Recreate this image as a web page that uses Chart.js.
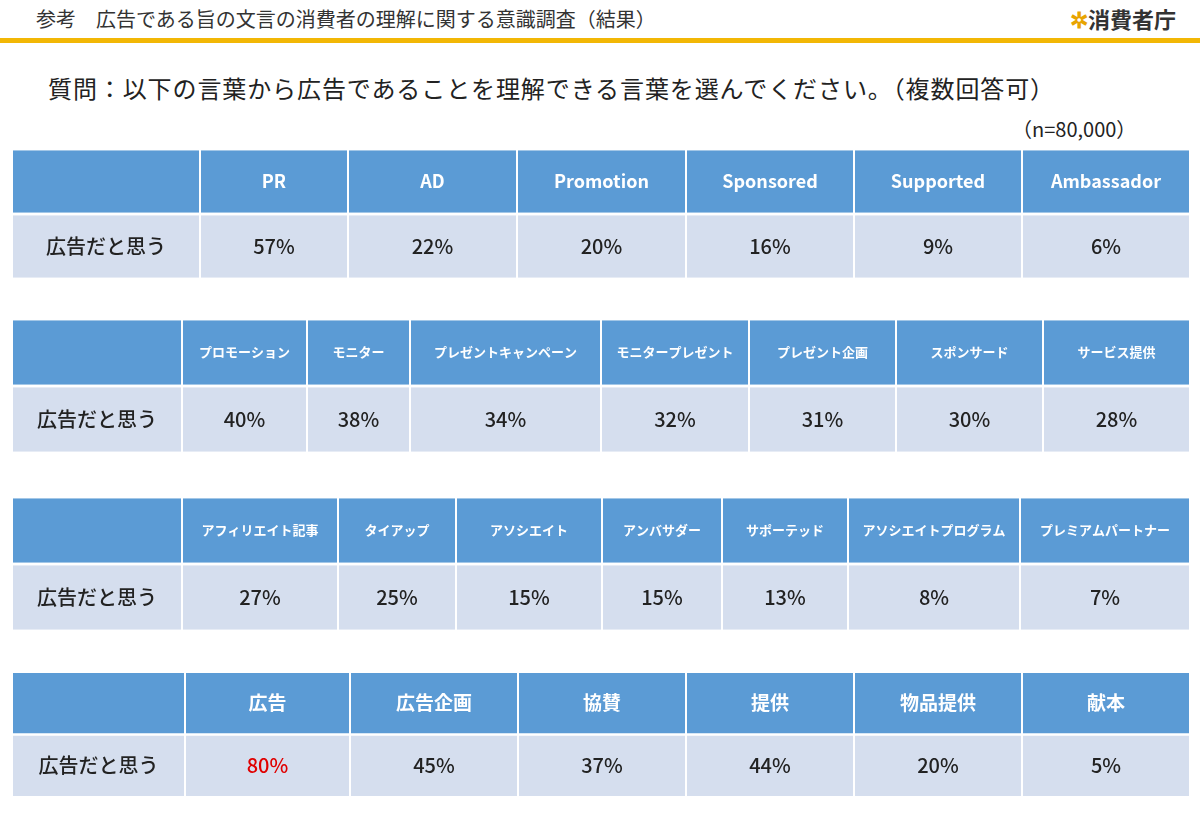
<!DOCTYPE html>
<html><head><meta charset="utf-8">
<script src="https://cdn.jsdelivr.net/npm/chart.js@4.4.0/dist/chart.umd.min.js"></script>
<style>
body{margin:0;width:1200px;height:830px;background:#fff;position:relative;overflow:hidden;font-family:"Noto Sans CJK JP","Noto Sans",sans-serif}
.t{position:absolute;white-space:nowrap;color:#222}
canvas{position:absolute;left:0}
</style></head><body>
<div class="t" style="left:36px;top:4px;font-size:20px;color:#333">参考　広告である旨の文言の消費者の理解に関する意識調査（結果）</div>
<div style="position:absolute;left:0;top:38px;width:1200px;height:5px;background:#f2b705"></div>
<div class="t" style="left:1070px;top:2px;font-size:22px;font-weight:bold;color:#333"><span style="color:#e8a400">✲</span>消費者庁</div>
<div class="t" style="left:48px;top:70px;font-size:24px;letter-spacing:0.9px">質問：以下の言葉から広告であることを理解できる言葉を選んでください。（複数回答可）</div>
<div class="t" style="left:1012px;top:114px;font-size:20px">（n=80,000）</div>
<canvas id="c1"></canvas><canvas id="c2"></canvas><canvas id="c3"></canvas><canvas id="c4"></canvas>
<script>
// ラベルと値
var rowLabel = '広告だと思う';
var words1 = ['PR', 'AD', 'Promotion', 'Sponsored', 'Supported', 'Ambassador'];
var values1 = [57, 22, 20, 16, 9, 6];
var words2 = ['プロモーション', 'モニター', 'プレゼントキャンペーン', 'モニタープレゼント', 'プレゼント企画', 'スポンサード', 'サービス提供'];
var values2 = [40, 38, 34, 32, 31, 30, 28];
var words3 = ['アフィリエイト記事', 'タイアップ', 'アソシエイト', 'アンバサダー', 'サポーテッド', 'アソシエイトプログラム', 'プレミアムパートナー'];
var values3 = [27, 25, 15, 15, 13, 8, 7];
var words4 = ['広告', '広告企画', '協賛', '提供', '物品提供', '献本'];
var values4 = [80, 45, 37, 44, 20, 5];
var highlight4 = 0;

// レイアウト（列の境界）
var edges1 = [12, 200, 348, 517, 686, 854, 1022, 1190];
var edges2 = [12, 182, 307, 410, 601, 749, 896, 1043, 1190];
var edges3 = [12, 182, 338, 456, 602, 722, 848, 1020, 1190];
var edges4 = [12, 185, 350, 518, 686, 854, 1022, 1190];

var headBlue = '#5b9bd5';
var rowGray = '#d5deee';

var textPlugin = {
  id: 'cellText',
  afterDatasetsDraw: function(chart) {
    var ctx = chart.ctx;
    var opt = chart.options.plugins.cellText;
    chart.data.datasets.forEach(function(ds, i) {
      var meta = chart.getDatasetMeta(i);
      meta.data.forEach(function(el, r) {
        var txt = ds.texts[r];
        if (!txt) return;
        ctx.save();
        ctx.fillStyle = ds.textColors[r];
        ctx.font = r === 0 ? opt.headFont : opt.rowFont;
        ctx.textAlign = 'center';
        ctx.textBaseline = 'middle';
        ctx.fillText(txt, (el.x + el.base) / 2, el.y);
        ctx.restore();
      });
    });
  }
};

function makeTable(id, top, h, words, values, edges, headFont, hi) {
  var cv = document.getElementById(id);
  cv.style.top = top + 'px';
  cv.width = 1200; cv.height = h;
  cv.style.width = '1200px'; cv.style.height = h + 'px';
  var datasets = [];
  for (var c = 0; c <= words.length; c++) {
    var head = c === 0 ? '' : words[c - 1];
    var val = c === 0 ? rowLabel : values[c - 1] + '%';
    var red = c > 0 && c - 1 === hi;
    datasets.push({
      data: [[edges[c], edges[c + 1]], [edges[c], edges[c + 1]]],
      backgroundColor: [headBlue, rowGray],
      borderColor: '#fff',
      borderWidth: {left: 1, right: 1, top: 0, bottom: 0},
      borderSkipped: false,
      texts: [head, val],
      textColors: ['#fff', red ? '#e00000' : '#222'],
      grouped: false,
      barPercentage: 0.965,
      categoryPercentage: 1
    });
  }
  new Chart(cv, {
    type: 'bar',
    data: {labels: ['head', 'row'], datasets: datasets},
    options: {
      indexAxis: 'y',
      responsive: false,
      animation: false,
      layout: {padding: 0},
      scales: {
        x: {type: 'linear', min: 0, max: 1200, display: false},
        y: {display: false}
      },
      plugins: {
        legend: {display: false},
        tooltip: {enabled: false},
        cellText: {headFont: headFont, rowFont: '500 20px "Noto Sans CJK JP"'}
      }
    },
    plugins: [textPlugin]
  });
}

makeTable('c1', 149, 130, words1, values1, edges1, 'bold 18px "Noto Sans CJK JP"', -1);
makeTable('c2', 319, 134, words2, values2, edges2, 'bold 13px "Noto Sans CJK JP"', -1);
makeTable('c3', 497, 134, words3, values3, edges3, 'bold 13px "Noto Sans CJK JP"', -1);
makeTable('c4', 672, 125, words4, values4, edges4, 'bold 19px "Noto Sans CJK JP"', highlight4);
</script>
</body></html>
